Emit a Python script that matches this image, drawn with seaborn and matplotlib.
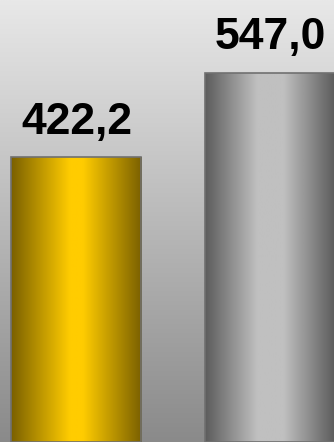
import numpy as np
import matplotlib
matplotlib.use("Agg")
import matplotlib.pyplot as plt
import seaborn as sns
from matplotlib.colors import LinearSegmentedColormap

categories = ["A", "B"]
values = [422.2, 547.0]
labels = ["422,2", "547,0"]

sns.set_theme(style="white")
plt.rcParams['font.family'] = ['Liberation Sans', 'DejaVu Sans']

fig = plt.figure(figsize=(3.34, 4.42), dpi=100)
ax = fig.add_axes([0, 0, 1, 1])

# background vertical gradient
bg = LinearSegmentedColormap.from_list("bg", ["#8a8a8a", "#e8e8e8"])
grad = np.linspace(0, 1, 256).reshape(-1, 1)
ax.imshow(grad, cmap=bg, aspect="auto", extent=[0, 1, 0, 1],
          transform=ax.transAxes, origin="lower", zorder=0)

sns.barplot(x=categories, y=values, ax=ax, width=0.672, zorder=2)

cmaps = [
    LinearSegmentedColormap.from_list("gold", [(0, "#7a6000"), (0.45, "#ffcc00"), (0.55, "#ffcc00"), (1, "#7a6000")]),
    LinearSegmentedColormap.from_list("silver", [(0, "#5c5c5c"), (0.4, "#c0c0c0"), (0.6, "#c0c0c0"), (1, "#5a5a5a")]),
]
hgrad = np.linspace(0, 1, 256).reshape(1, -1)
for p, cm, lab in zip(ax.patches, cmaps, labels):
    x0, y0 = p.get_x(), p.get_y()
    w, h = p.get_width(), p.get_height()
    p.set_facecolor("none")
    p.set_edgecolor("#707070")
    p.set_linewidth(1.2)
    p.set_zorder(3)
    im = ax.imshow(hgrad, cmap=cm, aspect="auto", extent=[x0, x0 + w, y0, y0 + h],
                   origin="lower", zorder=2.5)
    im.set_clip_path(p)
    ax.annotate(lab, (x0 + w / 2, y0 + h), xytext=(0, 17), textcoords="offset points",
                ha="center", va="baseline", fontsize=32, fontweight="bold", color="#000000",
                zorder=4)

ax.set_xlim(-0.395, 1.331)
ax.set_ylim(0, 655.3)
ax.set_axis_off()

fig.savefig("out.png", dpi=100)
